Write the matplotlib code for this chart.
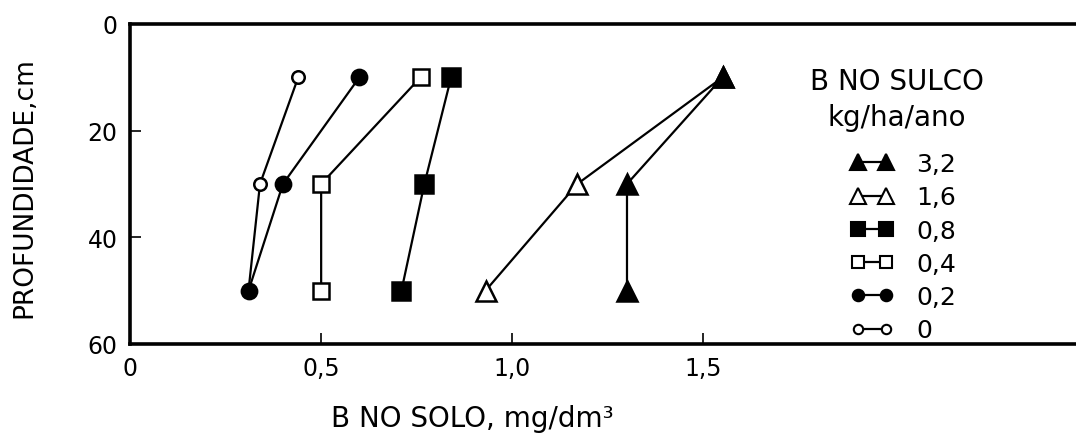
import matplotlib
matplotlib.use("Agg")
import matplotlib.pyplot as plt
from matplotlib.lines import Line2D

plt.rcParams['font.family'] = ['DejaVu Sans']

depth = [10, 30, 50]
series_labels = ["0", "0,2", "0,4", "0,8", "1,6", "3,2"]
b_0 = [0.44, 0.34, 0.31]
b_02 = [0.60, 0.40, 0.31]
b_04 = [0.76, 0.50, 0.50]
b_08 = [0.84, 0.77, 0.71]
b_16 = [1.55, 1.17, 0.93]
b_32 = [1.55, 1.30, 1.30]
x_ticks = [0, 0.5, 1.0, 1.5]
x_ticklabels = ["0", "0,5", "1,0", "1,5"]
y_ticks = [0, 20, 40, 60]
y_ticklabels = ["0", "20", "40", "60"]
legend_title = ["B NO SULCO", "kg/ha/ano"]

values = [b_0, b_02, b_04, b_08, b_16, b_32]
styles = [
    dict(marker='o', mfc='white', ms=9),
    dict(marker='o', mfc='black', ms=11),
    dict(marker='s', mfc='white', ms=12),
    dict(marker='s', mfc='black', ms=13),
    dict(marker='^', mfc='white', ms=15),
    dict(marker='^', mfc='black', ms=15),
]

W, H = 1076, 439
fig = plt.figure(figsize=(W/100, H/100), dpi=100)
ax = fig.add_axes([130/W, 1-345/H, (W-130)/W + 0.01, 320/H])

handles = []
for vals, lab, st in zip(values, series_labels, styles):
    ax.plot(vals, depth, color='black', lw=1.6, mec='black', mew=1.8,
            marker=st['marker'], mfc=st['mfc'], ms=st['ms'])
    handles.append(Line2D([], [], color='black', lw=1.6, mec='black', mew=1.5,
                          marker=st['marker'], mfc=st['mfc'], ms=st['ms']*0.75))

ax.set_xlim(0, 946/378)
ax.set_ylim(60, 0)
ax.set_xticks(x_ticks)
ax.set_xticklabels(x_ticklabels)
ax.set_yticks(y_ticks)
ax.set_yticklabels(y_ticklabels)
ax.tick_params(direction='in', length=8, width=1.2, labelsize=17, pad=9)
for s in ['left', 'bottom', 'top']:
    ax.spines[s].set_linewidth(2.6)
ax.spines['right'].set_visible(False)

ax.set_xlabel("B NO SOLO, mg/dm³", fontsize=20)
ax.xaxis.set_label_coords((468-130)/946, (345-405)/320)
ax.set_ylabel("PROFUNDIDADE,cm", fontsize=19)
ax.yaxis.set_label_coords((38-130)/946, (345-188)/320)

fig.text(897/W, 1-82/H, legend_title[0], fontsize=20, ha='center', va='center')
fig.text(897/W, 1-118/H, legend_title[1], fontsize=20, ha='center', va='center')

leg = ax.legend(handles[::-1], series_labels[::-1],
                loc='upper left', bbox_to_anchor=(850/W, 1-153/H),
                bbox_transform=fig.transFigure, frameon=False, fontsize=18,
                numpoints=2, handlelength=1.75, handletextpad=0.9,
                labelspacing=0.37, borderpad=0, borderaxespad=0)

fig.savefig("out.png", dpi=100)
